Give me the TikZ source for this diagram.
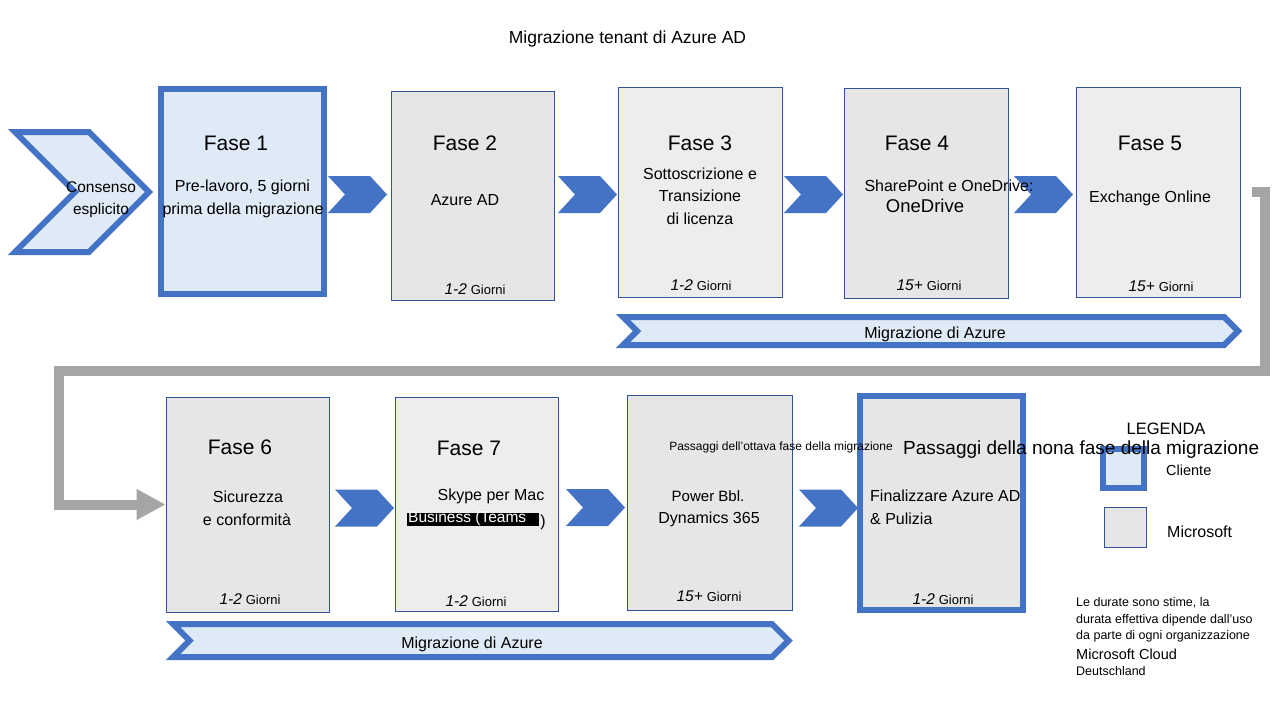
\documentclass[tikz,border=0pt]{standalone}
\usepackage{fontspec}
\setmainfont{Liberation Sans}
\usetikzlibrary{arrows.meta}
\definecolor{mblue}{HTML}{4472C4}
\definecolor{lblue}{HTML}{DEEBF7}
\definecolor{gA}{HTML}{E7E6E6}
\definecolor{gB}{HTML}{EDEDED}
\definecolor{dblue}{HTML}{2F5597}
\definecolor{conn}{HTML}{A5A5A5}
\newcommand{\pxsize}[1]{\fontsize{#1}{#1}\selectfont}
\newcommand{\giorni}[1]{{\pxsize{15.5}\itshape #1} {\pxsize{13}Giorni}}
\begin{document}
\begin{tikzpicture}[x=1pt,y=-1pt,
  msbox/.style={draw=dblue,line width=0.9pt,inner sep=0pt},
  clbox/.style={draw=mblue,line width=6pt,fill=lblue,inner sep=0pt},
  txt/.style={inner sep=0pt,text=black,font=\pxsize{16},text height=0.98em,text depth=0pt,yshift=-2.5pt},
  fase/.style={txt,font=\pxsize{21}},
  days/.style={txt,font=\pxsize{14}},
  note/.style={txt,anchor=west,font=\pxsize{12.5}},
  banner/.style={draw=mblue,line width=6pt,fill=lblue,line join=miter},
  chev/.pic={\fill[mblue] (-29.5,-18.5) -- (12.5,-18.5) -- (29.5,0) -- (12.5,18.5) -- (-29.5,18.5) -- (-12.5,0) -- cycle;}
]
\useasboundingbox[fill=white] (0,0) rectangle (1280,720);

% title
\node[txt,font=\pxsize{17.5}] (title) at (627.5,36) {Migrazione tenant di Azure AD};

% consenso chevron
\draw[banner] (15,132) -- (89,132) -- (149,192) -- (89,252) -- (15,252) -- (75,192) -- cycle;
\node[txt,font=\pxsize{15.5}] (cons1) at (101,185) {Consenso};
\node[txt,font=\pxsize{15.5}] (cons2) at (101,207) {esplicito};

% row 1 boxes
\node[clbox,minimum width=163pt,minimum height=205pt] (f1) at (242.5,191.5) {};
\node[msbox,fill=gA,minimum width=163pt,minimum height=209pt] (f2) at (472.5,195.5) {};
\node[msbox,fill=gB,minimum width=164pt,minimum height=210pt] (f3) at (700,192) {};
\node[msbox,fill=gA,minimum width=164pt,minimum height=210pt] (f4) at (926,193) {};
\node[msbox,fill=gB,minimum width=164pt,minimum height=210pt] (f5) at (1158,192) {};

% row 1 chevrons
\pic at (357.5,194.5) {chev};
\pic at (587.5,194.5) {chev};
\pic at (813.5,194.5) {chev};
\pic at (1043.5,194.5) {chev};

% row 1 texts
\node[fase] (f1t) at (236,143) {Fase 1};
\node[txt] (f1a) at (242.5,184) {Pre-lavoro, 5 giorni};
\node[txt] (f1b) at (243,207) {prima della migrazione};

\node[fase] (f2t) at (465,143) {Fase 2};
\node[txt] (f2a) at (465,198) {Azure AD};
\node[days] (f2d) at (475,287) {\giorni{1-2}};

\node[fase] (f3t) at (700,143) {Fase 3};
\node[txt] (f3a) at (700,172) {Sottoscrizione e};
\node[txt] (f3b) at (700,194) {Transizione};
\node[txt] (f3c) at (700,217) {di licenza};
\node[days] (f3d) at (701,283) {\giorni{1-2}};

\node[fase] (f4t) at (917,143) {Fase 4};
\node[txt] (f4a) at (949,184) {SharePoint e OneDrive:};
\node[txt,font=\pxsize{18.5}] (f4b) at (925,205) {OneDrive};
\node[days] (f4d) at (929,283) {\giorni{15+}};

\node[fase] (f5t) at (1150,143) {Fase 5};
\node[txt] (f5a) at (1150,195) {Exchange Online};
\node[days] (f5d) at (1161,284) {\giorni{15+}};

% top banner
\draw[banner] (623,317) -- (1224,317) -- (1238,331) -- (1224,345) -- (623,345) -- (637,331) -- cycle;
\node[txt] (b1) at (935,331) {Migrazione di Azure};

% row 2 boxes
\node[msbox,fill=gA,minimum width=163pt,minimum height=215pt] (f6) at (247.5,504.5) {};
\node[msbox,fill=gB,minimum width=163pt,minimum height=214pt] (f7) at (476.5,504) {};
\node[msbox,fill=gA,minimum width=165pt,minimum height=215pt] (f8) at (709.5,502.5) {};
\node[draw=mblue,line width=6pt,fill=gA,inner sep=0pt,minimum width=163pt,minimum height=214pt] (f9) at (941.5,503) {};

% grey connector
\draw[conn,line width=10pt,line join=miter,-{Triangle[length=29pt,width=29pt]}]
  ([xshift=12pt]f5.east) -- (1264.5,192) -- (1264.5,371) -- (59,371) |- (f6.west);

% row 2 chevrons
\pic at (364.5,508) {chev};
\pic at (595.5,507.5) {chev};
\pic at (828.5,508) {chev};

% legend boxes
\node[clbox,minimum width=41pt,minimum height=39pt] (lc) at (1123.5,468.5) {};
\node[msbox,fill=gA,minimum width=42pt,minimum height=40pt] (lm) at (1125,527) {};

% row 2 texts
\node[fase] (f6t) at (240,447) {Fase 6};
\node[txt] (f6a) at (248,495) {Sicurezza};
\node[txt] (f6b) at (247,518) {e conformità};
\node[days] (f6d) at (250,597) {\giorni{1-2}};

\node[fase] (f7t) at (469,448) {Fase 7};
\node[txt] (f7a) at (491,493) {Skype per Mac};
\node[inner xsep=1pt,inner ysep=1.5pt,anchor=west,fill=black,text=white,font=\pxsize{15.5},text height=0.76em,text depth=0.2em] (f7b) at (407,519.5) {\makebox[130pt][l]{Business (Teams}};
\node[txt] (f7c) at (543,519) {)};
\node[days] (f7d) at (476,599) {\giorni{1-2}};

\node[txt,font=\pxsize{12}] (f8t) at (781,443) {Passaggi dell'ottava fase della migrazione};
\node[txt,font=\pxsize{15}] (f8a) at (708,494) {Power Bbl.};
\node[txt] (f8b) at (709,516) {Dynamics 365};
\node[days] (f8d) at (709,594) {\giorni{15+}};

\node[txt,anchor=west,font=\pxsize{19}] (f9t) at (903,447) {Passaggi della nona fase della migrazione};
\node[txt,anchor=west] (f9a) at (870,494) {Finalizzare Azure AD};
\node[txt,anchor=west] (f9b) at (870,517) {\& Pulizia};
\node[days] (f9d) at (943,597) {\giorni{1-2}};

% bottom banner
\draw[banner] (173,624) -- (772,624) -- (788.5,640.5) -- (772,657) -- (173,657) -- (189.5,640.5) -- cycle;
\node[txt] (b2) at (472,641) {Migrazione di Azure};

% legend texts
\node[txt,font=\pxsize{16.5}] (leg) at (1166,427) {LEGENDA};
\node[txt,anchor=west,font=\pxsize{14.5}] (lct) at (1166,468) {Cliente};
\node[txt,anchor=west] (lmt) at (1167,530) {Microsoft};

% notes
\node[note] (n1) at (1076,599) {Le durate sono stime, la};
\node[note] (n2) at (1076,616) {durata effettiva dipende dall'uso};
\node[note] (n3) at (1076,632) {da parte di ogni organizzazione};
\node[note,font=\pxsize{14.5}] (n4) at (1076,652) {Microsoft Cloud};
\node[note] (n5) at (1076,668) {Deutschland};
\end{tikzpicture}
\end{document}
